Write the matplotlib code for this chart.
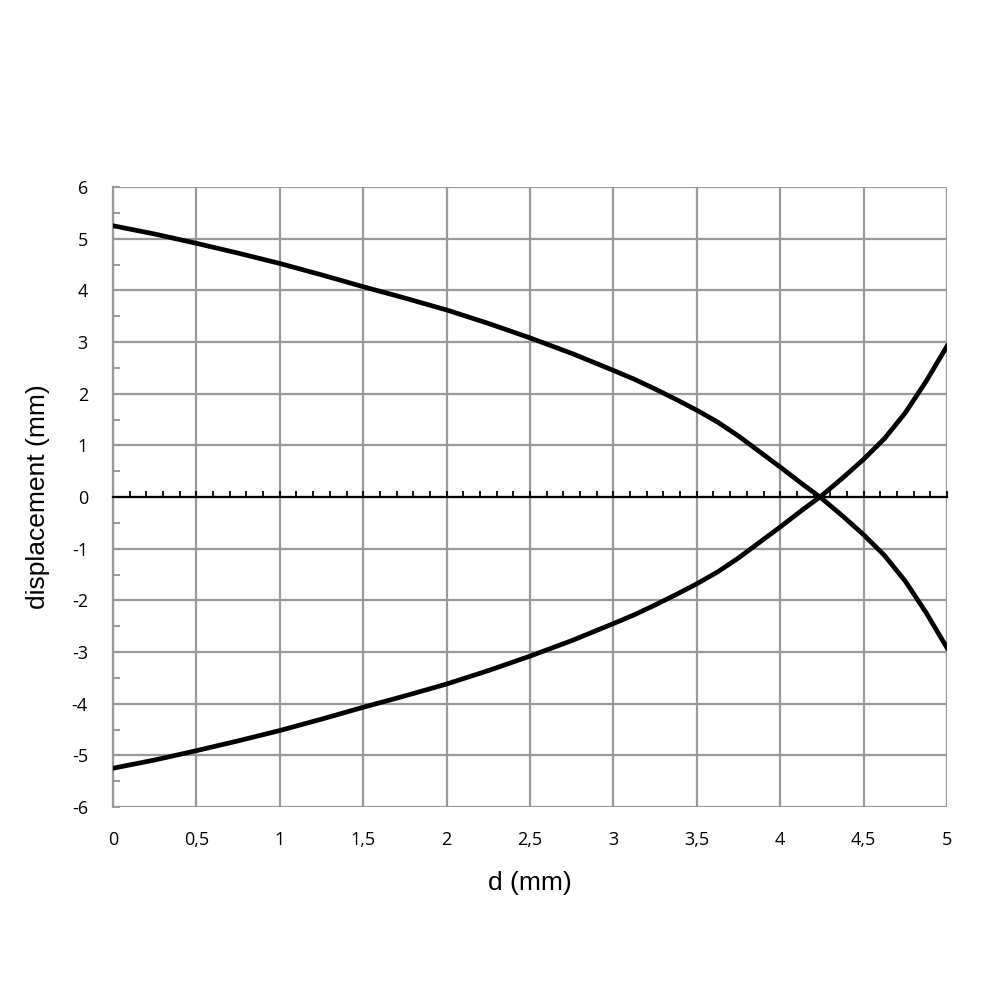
import matplotlib
matplotlib.use("Agg")
import matplotlib.pyplot as plt
from matplotlib.ticker import MultipleLocator, FuncFormatter, NullFormatter

d_mm = [0, 0.25, 0.5, 0.75, 1.0, 1.25, 1.5, 1.75, 2.0, 2.25, 2.5,
        2.75, 3.0, 3.125, 3.25, 3.375, 3.5, 3.625, 3.75, 3.875, 4.0,
        4.125, 4.25, 4.375, 4.5, 4.625, 4.75, 4.875, 5.0]
upper = [5.25, 5.09, 4.91, 4.72, 4.52, 4.30, 4.07, 3.85, 3.62, 3.36, 3.08,
         2.78, 2.45, 2.28, 2.09, 1.89, 1.68, 1.45, 1.18, 0.88, 0.58,
         0.27, -0.03, -0.37, -0.73, -1.13, -1.63, -2.24, -2.92]
lower = [-v for v in upper]

x_ticks = [0, 0.5, 1, 1.5, 2, 2.5, 3, 3.5, 4, 4.5, 5]
y_ticks = [-6, -5, -4, -3, -2, -1, 0, 1, 2, 3, 4, 5, 6]

fig = plt.figure(figsize=(10, 10), dpi=100)
ax = fig.add_axes([0.113, 0.193, 0.834, 0.620])

grid_c = "#9a9a9a"
ax.set_xlim(0, 5)
ax.set_ylim(-6, 6)
ax.set_xticks(x_ticks)
ax.set_yticks(y_ticks)
ax.yaxis.set_minor_locator(MultipleLocator(0.5))
ax.xaxis.set_minor_locator(MultipleLocator(0.1))
ax.grid(True, which="major", color=grid_c, lw=1.6)
ax.set_axisbelow(True)

for s in ["top", "right"]:
    ax.spines[s].set_visible(False)
ax.spines["left"].set_color(grid_c)
ax.spines["left"].set_linewidth(1.6)
# x axis line at zero with small upward ticks
ax.spines["bottom"].set_position(("data", 0))
ax.spines["bottom"].set_color("black")
ax.spines["bottom"].set_linewidth(1.6)
ax.spines["bottom"].set_zorder(4)
ax.tick_params(axis="x", which="both", direction="in", length=4.5, width=1.3,
               color="black", labelbottom=False)

fmt = FuncFormatter(lambda v, p: ("%g" % v).replace(".", ","))
ax.yaxis.set_major_formatter(fmt)
ax.tick_params(axis="y", which="both", direction="in", length=5,
               width=1.4, color=grid_c, pad=18,
               labelsize=13, labelfontfamily="Open Sans")

# tick labels along the bottom edge
sec = ax.secondary_xaxis("bottom")
sec.set_xticks(x_ticks)
sec.xaxis.set_major_formatter(fmt)
sec.tick_params(axis="x", which="both", length=0, pad=17,
                labelsize=13, labelfontfamily="Open Sans")
sec.xaxis.set_minor_formatter(NullFormatter())
for s in sec.spines.values():
    s.set_visible(False)

ax.plot(d_mm, upper, color="black", lw=3.4, zorder=5)
ax.plot(d_mm, lower, color="black", lw=3.4, zorder=5)

sec.set_xlabel("d (mm)", fontsize=19, family="Liberation Sans", labelpad=16)
ax.set_ylabel("displacement (mm)", fontsize=19, family="Liberation Sans",
              labelpad=16)

fig.savefig("out.png", dpi=100)
